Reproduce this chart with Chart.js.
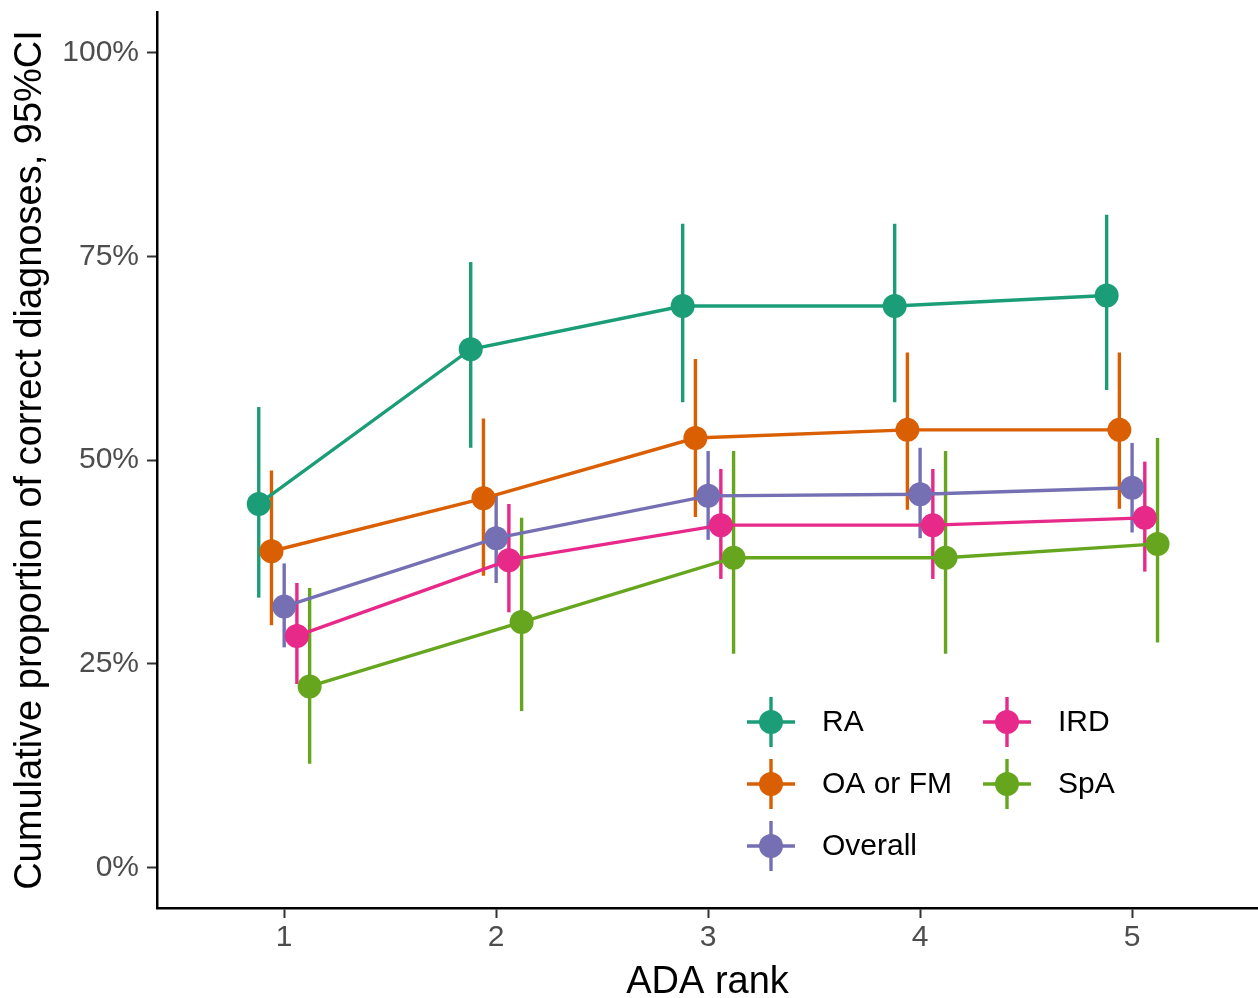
<!DOCTYPE html>
<html>
<head>
<meta charset="utf-8">
<script src="https://cdn.jsdelivr.net/npm/chart.js@4"></script>
<style>
  html, body { margin: 0; padding: 0; background: #fff; overflow: hidden; }
  canvas { display: block; }
</style>
</head>
<body>
<canvas id="myChart" width="1270" height="998"></canvas>
<script>
//Data (percent)
const ranks = [1, 2, 3, 4, 5];
const groups = ['RA', 'OA or FM', 'Overall', 'IRD', 'SpA'];

const raEst = [44.6, 63.6, 68.9, 68.9, 70.2];
const raLo  = [33.1, 51.5, 57.1, 57.1, 58.6];
const raHi  = [56.5, 74.3, 79.0, 79.0, 80.1];

const oaEst = [38.8, 45.3, 52.7, 53.7, 53.7];
const oaLo  = [29.7, 35.8, 43.0, 43.9, 44.0];
const oaHi  = [48.7, 55.1, 62.4, 63.2, 63.2];

const overallEst = [32.0, 40.4, 45.6, 45.8, 46.6];
const overallLo  = [27.0, 34.9, 40.2, 40.4, 41.1];
const overallHi  = [37.3, 45.6, 51.1, 51.5, 52.1];

const irdEst = [28.4, 37.7, 42.0, 42.0, 42.9];
const irdLo  = [22.5, 31.3, 35.4, 35.4, 36.3];
const irdHi  = [34.9, 44.6, 48.9, 48.9, 49.8];

const spaEst = [22.2, 30.1, 38.0, 38.0, 39.7];
const spaLo  = [12.7, 19.2, 26.2, 26.2, 27.6];
const spaHi  = [34.3, 42.9, 51.1, 51.1, 52.7];

const xTicks = [1, 2, 3, 4, 5];
const yTicks = [0, 25, 50, 75, 100];

//Style
const colors = ['#1B9E77', '#D95F02', '#7570B3', '#E7298A', '#66A61E'];
const dodge = [-0.12, -0.06, 0, 0.06, 0.12];
const FONT = '"Liberation Sans", Arial, Helvetica, sans-serif';

const series = [
  {est: raEst, lo: raLo, hi: raHi},
  {est: oaEst, lo: oaLo, hi: oaHi},
  {est: overallEst, lo: overallLo, hi: overallHi},
  {est: irdEst, lo: irdLo, hi: irdHi},
  {est: spaEst, lo: spaLo, hi: spaHi}
];

const datasets = series.map(function (s, g) {
  return {
    label: groups[g],
    data: ranks.map((r, i) => ({x: r + dodge[g], y: s.est[i], lo: s.lo[i], hi: s.hi[i]})),
    borderColor: colors[g],
    backgroundColor: colors[g],
    pointBackgroundColor: colors[g],
    pointBorderWidth: 0,
    pointRadius: 12,
    pointHoverRadius: 12,
    borderWidth: 3.4,
    tension: 0,
    fill: false,
    order: groups.length - g
  };
});

//Error bars, drawn under lines and points
const errorBars = {
  id: 'errorBars',
  beforeDatasetsDraw(chart) {
    const {ctx, scales: {x, y}} = chart;
    ctx.save();
    ctx.lineWidth = 3.4;
    chart.data.datasets.forEach(function (ds) {
      ctx.strokeStyle = ds.borderColor;
      ds.data.forEach(function (p) {
        const px = x.getPixelForValue(p.x);
        ctx.beginPath();
        ctx.moveTo(px, y.getPixelForValue(p.lo));
        ctx.lineTo(px, y.getPixelForValue(p.hi));
        ctx.stroke();
      });
    });
    ctx.restore();
  }
};

//ggplot-like legend inside the panel, two columns filled by column
const crossLegend = {
  id: 'crossLegend',
  afterDraw(chart) {
    const ctx = chart.ctx;
    const cols = [771, 1007];
    const rows = [722, 784, 846];
    ctx.save();
    ctx.font = '30px ' + FONT;
    ctx.textBaseline = 'middle';
    ctx.textAlign = 'left';
    groups.forEach(function (name, g) {
      const cx = cols[Math.floor(g / 3)];
      const cy = rows[g % 3];
      ctx.strokeStyle = colors[g];
      ctx.fillStyle = colors[g];
      ctx.lineWidth = 3.4;
      ctx.beginPath();
      ctx.moveTo(cx - 24, cy);
      ctx.lineTo(cx + 24, cy);
      ctx.moveTo(cx, cy - 25);
      ctx.lineTo(cx, cy + 25);
      ctx.stroke();
      ctx.beginPath();
      ctx.arc(cx, cy, 12, 0, Math.PI * 2);
      ctx.fill();
      ctx.fillStyle = '#000';
      ctx.fillText(name, cx + 51, cy + 1);
    });
    ctx.restore();
  }
};

var myChart = new Chart('myChart', {
  type: 'line',
  data: {datasets: datasets},
  options: {
    responsive: false,
    animation: false,
    events: [],
    layout: {padding: {top: 10, right: 0, left: 0, bottom: 0}},
    plugins: {
      legend: {display: false},
      tooltip: {enabled: false}
    },
    scales: {
      x: {
        type: 'linear',
        min: 0.4,
        max: 5.594,
        afterBuildTicks: function (scale) {
          scale.ticks = xTicks.map(v => ({value: v}));
        },
        afterFit: function (scale) {
          scale.height = 90;
          scale.paddingLeft = 0;
          scale.paddingRight = 0;
        },
        grid: {drawOnChartArea: false, drawTicks: true, tickLength: 10, tickWidth: 2, tickColor: '#333'},
        border: {display: true, color: '#000', width: 2.5},
        ticks: {
          padding: 2,
          color: '#4D4D4D',
          font: {family: FONT, size: 30},
          callback: v => String(v)
        },
        title: {
          display: true,
          text: 'ADA rank',
          color: '#000',
          font: {family: FONT, size: 38, lineHeight: 0.8},
          padding: {top: 0, bottom: 0}
        }
      },
      y: {
        min: -5,
        max: 105,
        afterBuildTicks: function (scale) {
          scale.ticks = yTicks.map(v => ({value: v}));
        },
        afterFit: function (scale) {
          scale.width = 157;
          scale.paddingTop = 0;
          scale.paddingBottom = 0;
        },
        grid: {drawOnChartArea: false, drawTicks: true, tickLength: 10, tickWidth: 2, tickColor: '#333'},
        border: {display: true, color: '#000', width: 2.5},
        ticks: {
          padding: 8,
          color: '#4D4D4D',
          font: {family: FONT, size: 30},
          callback: v => v + '%'
        },
        title: {
          display: true,
          text: 'Cumulative proportion of correct diagnoses, 95%CI',
          color: '#000',
          font: {family: FONT, size: 38, lineHeight: 1},
          padding: {top: 12, bottom: 0}
        }
      }
    }
  },
  plugins: [errorBars, crossLegend]
});
</script>
</body>
</html>
